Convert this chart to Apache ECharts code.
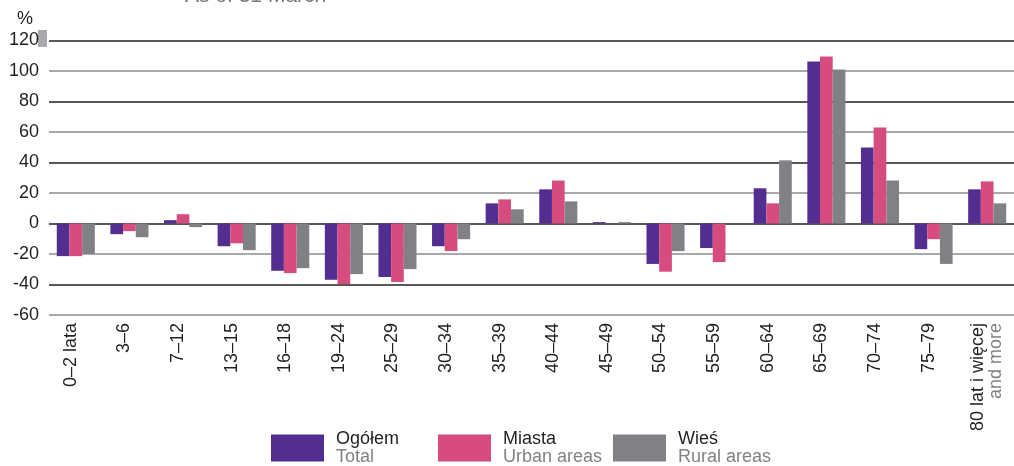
<!DOCTYPE html>
<html>
<head>
<meta charset="utf-8">
<script src="https://cdn.jsdelivr.net/npm/echarts@6/dist/echarts.min.js"></script>
<style>
    html, body { margin: 0; padding: 0; background: #fff; }
    #chart { width: 1014px; height: 466px; }
</style>
</head>
<body>
<div id="chart"></div>
<script>
// kategorie wieku
var categories = ['0–2 lata', '3–6', '7–12', '13–15', '16–18', '19–24', '25–29', '30–34', '35–39',
    '40–44', '45–49', '50–54', '55–59', '60–64', '65–69', '70–74', '75–79', '80 lat i więcej'];
var lastCategoryEn = 'and more';

// zmiany w %
var ogolem = [-21.4, -7, 2.2, -14.9, -31, -36.9, -35.1, -14.9, 13.2, 22.4, 0.9, -26.5, -16.1, 23.1, 106.2, 49.9, -16.8, 22.4];
var miasta = [-21.4, -5, 6.1, -13, -32.5, -39.7, -38.4, -18.1, 15.8, 28.2, 0, -31.6, -25.3, 13.2, 109.5, 63, -10.3, 27.6];
var wies = [-19.9, -9, -2.4, -17.5, -29.3, -33.2, -29.9, -10.3, 9.3, 14.5, 0.9, -18.1, 0, 41.4, 101, 28.2, -26.5, 13.2];

var seriesNames = ['Ogółem', 'Miasta', 'Wieś'];
var seriesNamesEn = ['Total', 'Urban areas', 'Rural areas'];
var seriesData = [ogolem, miasta, wies];

var yTicks = { min: -60, max: 120, step: 20 };
var titleText = 'As of 31 March';

var colors = ['#522e91', '#d74c7f', '#808184'];
var font = "'Liberation Sans', Arial, sans-serif";
var dark = '#231f20';

var chart = echarts.init(document.getElementById('chart'), null, { renderer: 'canvas' });

// os X - ostatnia etykieta ma dwie linie
var xData = categories.map(function(c, i) {
    if (i == categories.length - 1) {
        return {
            value: c,
            textStyle: { verticalAlign: 'middle', lineHeight: 18 }
        };
    }
    return c;
});

// legenda - osobna dla kazdej serii
var legendLeft = [271, 438, 613];
var legends = seriesNames.map(function(name, i) {
    return {
        data: [name],
        left: legendLeft[i],
        top: 430,
        padding: 0,
        itemWidth: 53,
        itemHeight: 27,
        icon: 'rect',
        selectedMode: false,
        formatter: function(n) {
            return '{a|' + n + '}\n{b|' + seriesNamesEn[i] + '}';
        },
        textStyle: {
            rich: {
                a: { fontFamily: font, fontSize: 18, color: dark, lineHeight: 18, padding: [0, 0, 0, 7] },
                b: { fontFamily: font, fontSize: 18, color: '#808285', lineHeight: 18, padding: [0, 0, 0, 7] }
            }
        }
    };
});

var series = seriesNames.map(function(name, i) {
    return {
        name: name,
        type: 'bar',
        data: seriesData[i],
        barGap: '0%',
        barCategoryGap: '29%',
        itemStyle: { color: colors[i] },
        animation: false
    };
});

var option = {
    animation: false,
    textStyle: { fontFamily: font },
    grid: { left: 49, right: 0, top: 40.5, height: 274.5 },
    legend: legends,
    xAxis: {
        type: 'category',
        data: xData,
        axisLine: { show: false },
        axisTick: { show: false },
        axisLabel: {
            interval: 0,
            rotate: 90,
            margin: 8,
            fontSize: 18,
            fontFamily: font,
            color: dark,
            verticalAlign: 'bottom',
            lineHeight: 10,
            formatter: function(v, idx) {
                if (idx == categories.length - 1) {
                    return '{a|' + v + '}\n{b|' + lastCategoryEn + '}';
                }
                return v;
            },
            rich: {
                a: { fontSize: 18, fontFamily: font, color: dark, lineHeight: 18 },
                b: { fontSize: 18, fontFamily: font, color: '#808285', lineHeight: 18 }
            }
        }
    },
    yAxis: {
        type: 'value',
        min: yTicks.min,
        max: yTicks.max,
        interval: yTicks.step,
        axisLine: { show: false },
        axisTick: { show: false },
        axisLabel: { fontSize: 18, fontFamily: font, color: dark, margin: 10 },
        splitLine: {
            show: true,
            lineStyle: { color: ['#8c8c8c', dark], width: 1.5 }
        }
    },
    graphic: [
        {
            type: 'text', left: 185, top: -14,
            style: { text: titleText, font: '21px ' + font, fill: '#77787b' }
        },
        {
            type: 'text', left: 17, top: 10,
            style: { text: '%', font: '18px ' + font, fill: dark }
        },
        {
            type: 'rect', left: 38, top: 30,
            shape: { width: 9, height: 17 },
            style: { fill: '#a7a9ac' }
        }
    ],
    series: series
};

chart.setOption(option);
</script>
</body>
</html>
